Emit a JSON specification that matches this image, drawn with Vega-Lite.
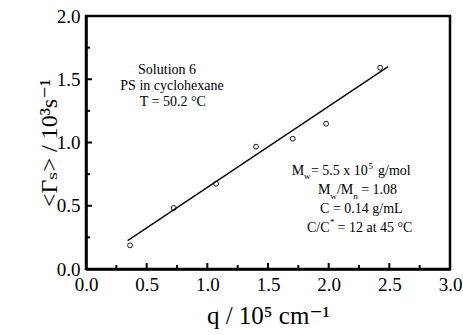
{
  "$schema": "https://vega.github.io/schema/vega-lite/v6.json",
  "width": 364,
  "height": 253,
  "autosize": {"type": "none"},
  "padding": {"left": 86, "top": 16, "right": 13, "bottom": 66},
  "background": "white",
  "config": {
    "view": {"stroke": "black", "strokeWidth": 2.5},
    "font": "Liberation Serif",
    "text": {"font": "Liberation Serif", "color": "black"}
  },
  "datasets": {
    "points": [
      {"x": 0.363, "y": 0.187},
      {"x": 0.723, "y": 0.482},
      {"x": 1.072, "y": 0.674},
      {"x": 1.401, "y": 0.967},
      {"x": 1.704, "y": 1.030},
      {"x": 1.979, "y": 1.149},
      {"x": 2.424, "y": 1.591}
    ],
    "fit": [
      {"x": 0.343, "y": 0.224},
      {"x": 2.49, "y": 1.60}
    ],
    "xMajorTicks": [
      {"x": 0.5, "y": 0}, {"x": 1.0, "y": 0}, {"x": 1.5, "y": 0}, {"x": 2.0, "y": 0}, {"x": 2.5, "y": 0}
    ],
    "xMinorTicks": [
      {"x": 0.25, "y": 0}, {"x": 0.75, "y": 0}, {"x": 1.25, "y": 0}, {"x": 1.75, "y": 0}, {"x": 2.25, "y": 0}, {"x": 2.75, "y": 0}
    ],
    "yMajorTicks": [
      {"x": 0, "y": 0.5}, {"x": 0, "y": 1.0}, {"x": 0, "y": 1.5}
    ],
    "yMinorTicks": [
      {"x": 0, "y": 0.25}, {"x": 0, "y": 0.75}, {"x": 0, "y": 1.25}, {"x": 0, "y": 1.75}
    ],
    "leftNotes": [
      {"x": 0.668, "y": 1.545, "t": "Solution 6"},
      {"x": 0.709, "y": 1.415, "t": "PS in cyclohexane"},
      {"x": 0.715, "y": 1.285, "t": "T = 50.2 °C"}
    ],
    "rightNotes": [
      {"x": 1.695, "y": 0.743, "t": "M"},
      {"x": 1.854, "y": 0.743, "t": "= 5.5 x 10"},
      {"x": 2.407, "y": 0.743, "t": "g/mol"},
      {"x": 1.912, "y": 0.593, "t": "M"},
      {"x": 2.068, "y": 0.593, "t": "/M"},
      {"x": 2.268, "y": 0.593, "t": "= 1.08"},
      {"x": 1.929, "y": 0.443, "t": "C = 0.14 g/mL"},
      {"x": 1.821, "y": 0.292, "t": "C/C"},
      {"x": 2.073, "y": 0.292, "t": "= 12 at 45 °C"}
    ],
    "smallNotes": [
      {"x": 1.797, "y": 0.708, "t": "w"},
      {"x": 2.328, "y": 0.794, "t": "5"},
      {"x": 2.014, "y": 0.557, "t": "w"},
      {"x": 2.202, "y": 0.557, "t": "n"},
      {"x": 2.011, "y": 0.348, "t": "*"}
    ]
  },
  "layer": [
    {
      "data": {"name": "points"},
      "mark": {"type": "point", "shape": "circle", "filled": false, "color": "black", "size": 24, "strokeWidth": 0.9, "opacity": 1},
      "encoding": {
        "x": {
          "field": "x", "type": "quantitative",
          "scale": {"domain": [0, 3], "nice": false, "zero": false},
          "axis": {
            "title": "q / 10⁵ cm⁻¹",
            "values": [0, 0.5, 1, 1.5, 2, 2.5, 3],
            "format": ".1f",
            "ticks": false,
            "domainColor": "black", "domainWidth": 2.5,
            "labelFont": "Liberation Serif", "labelFontSize": 19, "labelColor": "black",
            "labelPadding": 6, "labelOverlap": false, "labelFlush": false, "labelBound": false,
            "titleFont": "Liberation Serif, DejaVu Serif, DejaVu Sans", "titleFontSize": 25, "titleFontWeight": "normal", "titleColor": "black",
            "titlePadding": 9, "grid": false
          }
        },
        "y": {
          "field": "y", "type": "quantitative",
          "scale": {"domain": [0, 2], "nice": false, "zero": false},
          "axis": {
            "title": "<Γₛ> / 10³s⁻¹",
            "values": [0, 0.5, 1, 1.5, 2],
            "format": ".1f",
            "ticks": false,
            "domainColor": "black", "domainWidth": 2.5,
            "labelFont": "Liberation Serif", "labelFontSize": 19, "labelColor": "black",
            "labelPadding": 6, "labelOverlap": false, "labelFlush": false, "labelBound": false,
            "titleFont": "Liberation Serif, DejaVu Serif, DejaVu Sans", "titleFontSize": 24, "titleFontWeight": "normal", "titleColor": "black",
            "titlePadding": -5, "grid": false
          }
        }
      }
    },
    {
      "data": {"name": "xMajorTicks"},
      "mark": {"type": "tick", "orient": "vertical", "color": "black", "size": 6, "thickness": 2, "yOffset": -3, "opacity": 1},
      "encoding": {
        "x": {"field": "x", "type": "quantitative"},
        "y": {"field": "y", "type": "quantitative"}
      }
    },
    {
      "data": {"name": "xMinorTicks"},
      "mark": {"type": "tick", "orient": "vertical", "color": "black", "size": 4, "thickness": 2, "yOffset": -2, "opacity": 1},
      "encoding": {
        "x": {"field": "x", "type": "quantitative"},
        "y": {"field": "y", "type": "quantitative"}
      }
    },
    {
      "data": {"name": "yMajorTicks"},
      "mark": {"type": "tick", "orient": "horizontal", "color": "black", "size": 6, "thickness": 2, "xOffset": 3, "opacity": 1},
      "encoding": {
        "x": {"field": "x", "type": "quantitative"},
        "y": {"field": "y", "type": "quantitative"}
      }
    },
    {
      "data": {"name": "yMinorTicks"},
      "mark": {"type": "tick", "orient": "horizontal", "color": "black", "size": 4, "thickness": 2, "xOffset": 2, "opacity": 1},
      "encoding": {
        "x": {"field": "x", "type": "quantitative"},
        "y": {"field": "y", "type": "quantitative"}
      }
    },
    {
      "data": {"name": "fit"},
      "mark": {"type": "line", "color": "black", "strokeWidth": 1.3},
      "encoding": {
        "x": {"field": "x", "type": "quantitative"},
        "y": {"field": "y", "type": "quantitative"}
      }
    },
    {
      "data": {"name": "leftNotes"},
      "mark": {"type": "text", "fontSize": 14, "align": "center", "baseline": "alphabetic", "color": "black", "font": "Liberation Serif"},
      "encoding": {
        "x": {"field": "x", "type": "quantitative"},
        "y": {"field": "y", "type": "quantitative"},
        "text": {"field": "t"}
      }
    },
    {
      "data": {"name": "rightNotes"},
      "mark": {"type": "text", "fontSize": 14, "align": "left", "baseline": "alphabetic", "color": "black", "font": "Liberation Serif"},
      "encoding": {
        "x": {"field": "x", "type": "quantitative"},
        "y": {"field": "y", "type": "quantitative"},
        "text": {"field": "t"}
      }
    },
    {
      "data": {"name": "smallNotes"},
      "mark": {"type": "text", "fontSize": 9, "align": "left", "baseline": "alphabetic", "color": "black", "font": "Liberation Serif"},
      "encoding": {
        "x": {"field": "x", "type": "quantitative"},
        "y": {"field": "y", "type": "quantitative"},
        "text": {"field": "t"}
      }
    }
  ]
}
